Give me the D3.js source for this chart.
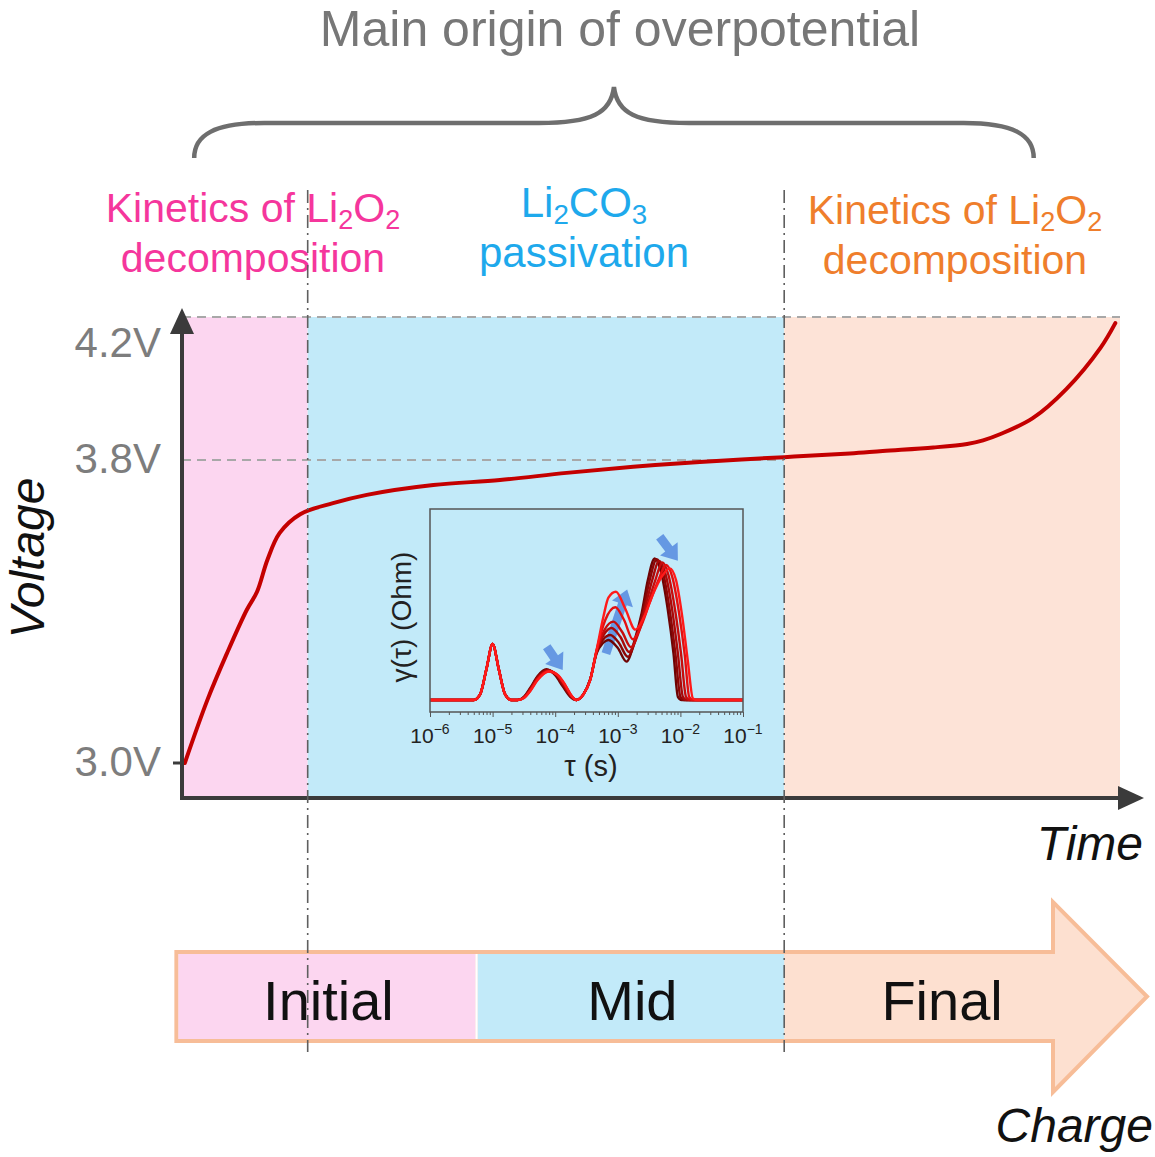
<!DOCTYPE html>
<html>
<head>
<meta charset="utf-8">
<script src="https://cdn.jsdelivr.net/npm/d3@7"></script>
<style>
  body { margin: 0; background: #fff; }
  svg { display: block; font-family: "Liberation Sans", Arial, sans-serif; }
</style>
</head>
<body>
<div id="chart"></div>
<script>
// ---- charge curve (time in % of charge, voltage in V) ----
const timePts = [0.3, 2.7, 4.8, 6.9, 8.0, 9.1, 10.4, 12.6, 16.1, 19.7, 26.8, 33.9, 41.0, 48.1, 55.2, 64.2,
                 71.2, 74.7, 80.1, 83.7, 85.4, 87.2, 90.7, 94.3, 97.9, 99.5];
const voltPts = [3.0, 3.166, 3.29, 3.404, 3.452, 3.536, 3.607, 3.657, 3.686, 3.708, 3.734, 3.747, 3.766, 3.782, 3.795, 3.808,
                 3.818, 3.825, 3.835, 3.845, 3.855, 3.872, 3.917, 3.999, 4.113, 4.183];
const voltTicks = [3.0, 3.8, 4.2];
const guideLevels = [4.2, 3.8];
const guideEnds = [100, 64.2];

// ---- phases ----
const phaseBounds = [0, 13.4, 64.2, 100];
const phaseColors = ['#fcd6f0', '#c2eaf9', '#fde3d7'];
const stageNames = ['Initial', 'Mid', 'Final'];
const stageBounds = [-0.6, 31.4, 64.2];
const stageColors = ['#fcd6f0', '#c2eaf9'];

// ---- inset DRT (log10 tau, gamma) ----
const tauDecades = [-6, -5, -4, -3, -2, -1];
const drtShared = [[-6, 0], [-5.3, 0], [-5.2, 0.35], [-5.1, 1.9], [-5.0, 3.5], [-4.9, 1.9], [-4.8, 0.35], [-4.7, 0], [-4.6, 0]];
const drtCurves = [
  [[-4.5, 0.2], [-4.4, 0.75], [-4.28, 1.5], [-4.14, 1.92], [-4.0, 1.55], [-3.88, 0.85], [-3.76, 0.2], [-3.66, 0], [-3.55, 0.35], [-3.44, 1.3], [-3.34, 2.9], [-3.24, 3.55], [-3.15, 3.75], [-3.0, 3.25], [-2.86, 2.4], [-2.72, 3.9], [-2.62, 5.4], [-2.52, 7.5], [-2.41, 8.85], [-2.31, 8.0], [-2.2, 5.6], [-2.11, 2.9], [-2.04, 0.2], [-1.98, 0], [-1, 0]],
  [[-4.5, 0.18], [-4.4, 0.7], [-4.28, 1.45], [-4.13, 1.88], [-3.99, 1.56], [-3.87, 0.88], [-3.75, 0.22], [-3.66, 0], [-3.55, 0.35], [-3.44, 1.3], [-3.34, 2.95], [-3.23, 3.8], [-3.12, 4.06], [-2.98, 3.55], [-2.84, 2.7], [-2.7, 4.0], [-2.6, 5.5], [-2.49, 7.5], [-2.38, 8.8], [-2.28, 8.0], [-2.17, 5.6], [-2.08, 2.9], [-2.0, 0.2], [-1.94, 0], [-1, 0]],
  [[-4.5, 0.16], [-4.4, 0.66], [-4.28, 1.4], [-4.12, 1.85], [-3.98, 1.57], [-3.86, 0.9], [-3.75, 0.24], [-3.66, 0], [-3.55, 0.35], [-3.44, 1.28], [-3.34, 3.0], [-3.22, 4.1], [-3.1, 4.5], [-2.96, 3.95], [-2.82, 3.0], [-2.68, 4.2], [-2.57, 5.7], [-2.45, 7.5], [-2.34, 8.7], [-2.24, 7.9], [-2.13, 5.6], [-2.04, 2.9], [-1.96, 0.2], [-1.9, 0], [-1, 0]],
  [[-4.5, 0.15], [-4.4, 0.62], [-4.28, 1.35], [-4.11, 1.82], [-3.97, 1.57], [-3.85, 0.92], [-3.74, 0.25], [-3.66, 0], [-3.55, 0.35], [-3.44, 1.27], [-3.34, 3.05], [-3.21, 4.4], [-3.07, 4.9], [-2.93, 4.25], [-2.79, 3.3], [-2.65, 4.4], [-2.53, 5.9], [-2.4, 7.5], [-2.29, 8.6], [-2.19, 7.8], [-2.08, 5.5], [-1.99, 2.9], [-1.91, 0.2], [-1.85, 0], [-1, 0]],
  [[-4.5, 0.13], [-4.4, 0.58], [-4.28, 1.3], [-4.1, 1.8], [-3.96, 1.56], [-3.84, 0.92], [-3.74, 0.26], [-3.66, 0], [-3.55, 0.35], [-3.44, 1.26], [-3.34, 3.1], [-3.2, 5.0], [-3.04, 5.8], [-2.9, 5.0], [-2.76, 3.8], [-2.62, 4.7], [-2.49, 6.1], [-2.35, 7.5], [-2.23, 8.45], [-2.13, 7.7], [-2.02, 5.4], [-1.93, 2.8], [-1.86, 0.2], [-1.8, 0], [-1, 0]],
  [[-4.5, 0.12], [-4.4, 0.55], [-4.28, 1.25], [-4.1, 1.78], [-3.96, 1.56], [-3.84, 0.95], [-3.74, 0.28], [-3.66, 0], [-3.55, 0.35], [-3.44, 1.25], [-3.34, 3.1], [-3.23, 5.2], [-3.15, 6.4], [-3.03, 6.77], [-2.88, 5.7], [-2.72, 4.4], [-2.58, 5.2], [-2.44, 6.6], [-2.3, 7.7], [-2.17, 8.23], [-2.07, 7.5], [-1.97, 5.2], [-1.88, 2.4], [-1.8, 0.1], [-1.74, 0], [-1, 0]]
];
const drtColors = ['#6e0404', '#8c0606', '#a90909', '#c70c0c', '#e40f0f', '#ff1a1a'];
const shiftArrows = [
  { from: [-4.135, 3.33], to: [-3.88, 1.87] },
  { from: [-3.19, 2.9], to: [-2.85, 6.9] },
  { from: [-2.33, 10.2], to: [-2.04, 8.7] }
];

const width = 1155, height = 1157;
const svg = d3.select('#chart').append('svg')
  .attr('width', width).attr('height', height)
  .attr('viewBox', [0, 0, width, height]);

const x = d3.scaleLinear().domain([0, 100]).range([182, 1120]);
const y = d3.scaleLinear().domain([3.0, 3.8, 4.2]).range([763, 460, 317]);
const plotBottom = 798;
const axisColor = '#3b3b3b';

// phase backgrounds
svg.append('g').selectAll('rect').data(phaseColors).join('rect')
  .attr('x', (d, i) => x(phaseBounds[i]))
  .attr('width', (d, i) => x(phaseBounds[i + 1]) - x(phaseBounds[i]))
  .attr('y', y(4.2))
  .attr('height', plotBottom - y(4.2))
  .attr('fill', d => d);

// dashed voltage guides
svg.append('g').selectAll('line').data(guideLevels).join('line')
  .attr('x1', x(0)).attr('x2', (d, i) => x(guideEnds[i]))
  .attr('y1', d => y(d)).attr('y2', d => y(d))
  .attr('stroke', '#a8a8a8').attr('stroke-width', 2)
  .attr('stroke-dasharray', '9,6');

// ---- inset ----
const inset = { left: 430, right: 743, top: 509, bottom: 712 };
const tx = d3.scaleLog().domain([1e-6, 1e-1]).range([inset.left, inset.right]);
const gy = d3.scaleLinear().domain([-0.75, 11.94]).range([inset.bottom, inset.top]);
const ig = svg.append('g');

function arrowPath(x1, y1, x2, y2, shaft = 4.5, head = 11, headLen = 15) {
  const dx = x2 - x1, dy = y2 - y1, L = Math.hypot(dx, dy);
  const ux = dx / L, uy = dy / L, px = -uy, py = ux;
  const bx = x2 - ux * headLen, by = y2 - uy * headLen;
  const pts = [[x1 + px * shaft, y1 + py * shaft], [bx + px * shaft, by + py * shaft], [bx + px * head, by + py * head],
               [x2, y2], [bx - px * head, by - py * head], [bx - px * shaft, by - py * shaft], [x1 - px * shaft, y1 - py * shaft]];
  return 'M' + pts.join('L') + 'Z';
}

ig.append('g').selectAll('path').data(shiftArrows).join('path')
  .attr('d', d => arrowPath(tx(10 ** d.from[0]), gy(d.from[1]), tx(10 ** d.to[0]), gy(d.to[1])))
  .attr('fill', '#5b8fe0').attr('opacity', 0.9);

const drtLine = d3.line()
  .x(d => tx(10 ** d[0]))
  .y(d => gy(d[1]))
  .curve(d3.curveMonotoneX);

ig.append('g').selectAll('path').data(drtCurves).join('path')
  .attr('d', d => drtLine(drtShared.concat(d)))
  .attr('fill', 'none')
  .attr('stroke', (d, i) => drtColors[i])
  .attr('stroke-width', 2.4);

ig.append('rect')
  .attr('x', inset.left).attr('y', inset.top)
  .attr('width', inset.right - inset.left).attr('height', inset.bottom - inset.top)
  .attr('fill', 'none').attr('stroke', '#555').attr('stroke-width', 1.5);

// minor / major ticks
const minorTicks = tx.ticks().filter(v => Math.abs(Math.log10(v) - Math.round(Math.log10(v))) > 1e-6);
ig.append('g').attr('transform', `translate(0,${inset.bottom})`).attr('color', '#555')
  .call(d3.axisBottom(tx).tickValues(minorTicks).tickSize(3).tickFormat(''))
  .call(g => g.select('.domain').remove());
ig.append('g').attr('transform', `translate(0,${inset.bottom})`).attr('color', '#555')
  .call(d3.axisBottom(tx).tickValues(tauDecades.map(d => 10 ** d)).tickSize(5).tickFormat(''))
  .call(g => g.select('.domain').remove());

const tauLab = ig.append('g').selectAll('text').data(tauDecades).join('text')
  .attr('x', d => tx(10 ** d)).attr('y', 743)
  .attr('text-anchor', 'middle').attr('font-size', 21).attr('fill', '#222');
tauLab.append('tspan').text('10');
tauLab.append('tspan').attr('dy', -9).attr('font-size', 14).text(d => '\u2212' + Math.abs(d));

ig.append('text').attr('x', 591).attr('y', 776)
  .attr('text-anchor', 'middle').attr('font-size', 29).attr('fill', '#222')
  .text('τ (s)');
ig.append('text').attr('transform', 'translate(411,617) rotate(-90)')
  .attr('text-anchor', 'middle').attr('font-size', 28).attr('fill', '#222')
  .text('γ(τ) (Ohm)');

// ---- charge curve ----
const vLine = d3.line()
  .x((d, i) => x(timePts[i]))
  .y(d => y(d))
  .curve(d3.curveCatmullRom.alpha(0.5));
svg.append('path').datum(voltPts)
  .attr('d', vLine)
  .attr('fill', 'none').attr('stroke', '#c40000').attr('stroke-width', 4)
  .attr('stroke-linecap', 'round');

// ---- axes ----
const axes = svg.append('g').attr('fill', axisColor).attr('stroke', axisColor);
axes.append('line').attr('x1', x(0)).attr('x2', x(0)).attr('y1', plotBottom + 2).attr('y2', 328).attr('stroke-width', 4);
axes.append('path').attr('d', `M${x(0)},308L${x(0) - 12},334L${x(0) + 12},334Z`).attr('stroke', 'none');
axes.append('line').attr('x1', x(0) - 2).attr('x2', 1122).attr('y1', plotBottom).attr('y2', plotBottom).attr('stroke-width', 4);
axes.append('path').attr('d', `M1144,${plotBottom}L1118,${plotBottom - 12}L1118,${plotBottom + 12}Z`).attr('stroke', 'none');
axes.append('line').attr('x1', x(0) - 9).attr('x2', x(0)).attr('y1', y(3.0)).attr('y2', y(3.0)).attr('stroke-width', 3);

svg.append('g').selectAll('text').data(voltTicks).join('text')
  .attr('x', 161)
  .attr('y', d => Math.max(y(d) + 13, 357))
  .attr('text-anchor', 'end').attr('font-size', 42).attr('fill', '#7d7d7d')
  .text(d => d.toFixed(1) + 'V');

svg.append('text').attr('transform', 'translate(44,558) rotate(-90)')
  .attr('text-anchor', 'middle').attr('font-size', 48).attr('font-style', 'italic').attr('fill', '#111')
  .text('Voltage');
svg.append('text').attr('x', 1143).attr('y', 860)
  .attr('text-anchor', 'end').attr('font-size', 48).attr('font-style', 'italic').attr('fill', '#111')
  .text('Time');

// ---- top annotation ----
svg.append('text').attr('x', 620).attr('y', 46)
  .attr('text-anchor', 'middle').attr('font-size', 50).attr('fill', '#777')
  .text('Main origin of overpotential');

const braceSpan = [1.3, 90.8];
const bl = x(braceSpan[0]), br = x(braceSpan[1]), bm = (bl + br) / 2;
const yEnd = 158, yBar = 123, yTip = 87;
svg.append('path')
  .attr('d', `M${bl},${yEnd}C${bl},${yBar + 12} ${bl + 20},${yBar} ${bl + 70},${yBar}` +
             `L${bm - 75},${yBar}C${bm - 22},${yBar} ${bm - 3},${yBar - 10} ${bm},${yTip}` +
             `C${bm + 3},${yBar - 10} ${bm + 22},${yBar} ${bm + 75},${yBar}` +
             `L${br - 70},${yBar}C${br - 20},${yBar} ${br},${yBar + 12} ${br},${yEnd}`)
  .attr('fill', 'none').attr('stroke', '#6e6e6e').attr('stroke-width', 4.5);

function chemLabel(cx, y1, y2, size, color, parts, line2) {
  const t = svg.append('text').attr('x', cx).attr('y', y1)
    .attr('text-anchor', 'middle').attr('font-size', size).attr('fill', color);
  parts.forEach(p => {
    const s = t.append('tspan').text(p[0]);
    if (p[1] === 'sub') s.attr('font-size', size * 0.66).attr('dy', 7);
    if (p[1] === 'up') s.attr('dy', -7);
  });
  svg.append('text').attr('x', cx).attr('y', y2)
    .attr('text-anchor', 'middle').attr('font-size', size).attr('fill', color)
    .text(line2);
}
chemLabel(253, 222, 272, 41, '#f5369c', [['Kinetics of Li'], ['2', 'sub'], ['O', 'up'], ['2', 'sub']], 'decomposition');
chemLabel(584, 217, 267, 42, '#1ea9ec', [['Li'], ['2', 'sub'], ['CO', 'up'], ['3', 'sub']], 'passivation');
chemLabel(955, 224, 274, 41, '#ef7e2c', [['Kinetics of Li'], ['2', 'sub'], ['O', 'up'], ['2', 'sub']], 'decomposition');

// ---- stage arrow ----
const barTop = 952, barBot = 1041, headBase = 1053, headTip = 1147, headTop = 902, headBot = 1092;
svg.append('path')
  .attr('d', `M${x(stageBounds[0])},${barTop}L${headBase},${barTop}L${headBase},${headTop}L${headTip},${(barTop + barBot) / 2}` +
             `L${headBase},${headBot}L${headBase},${barBot}L${x(stageBounds[0])},${barBot}Z`)
  .attr('fill', '#fde0d0').attr('stroke', '#f7bd98').attr('stroke-width', 4);
svg.append('g').selectAll('rect').data(stageColors).join('rect')
  .attr('x', (d, i) => x(stageBounds[i]) + (i ? 1 : 2))
  .attr('width', (d, i) => x(stageBounds[i + 1]) - x(stageBounds[i]) - (i ? 1 : 3))
  .attr('y', barTop + 2).attr('height', barBot - barTop - 4)
  .attr('fill', d => d);
svg.append('line').attr('x1', x(stageBounds[1])).attr('x2', x(stageBounds[1]))
  .attr('y1', barTop + 2).attr('y2', barBot - 2).attr('stroke', '#fff').attr('stroke-width', 2);

svg.append('g').selectAll('text').data(stageNames).join('text')
  .attr('x', (d, i) => i < 2 ? (x(stageBounds[i]) + x(stageBounds[i + 1])) / 2 + 2 : (x(stageBounds[i]) + headBase + (headTip - headBase) / 2) / 2)
  .attr('y', 1020)
  .attr('text-anchor', 'middle').attr('font-size', 56).attr('fill', '#111')
  .text(d => d);

svg.append('text').attr('x', 1153).attr('y', 1142)
  .attr('text-anchor', 'end').attr('font-size', 48).attr('font-style', 'italic').attr('fill', '#111')
  .text('Charge');

// ---- phase boundary dash-dot lines ----
svg.append('g').selectAll('line').data(phaseBounds.slice(1, 3)).join('line')
  .attr('x1', d => x(d)).attr('x2', d => x(d))
  .attr('y1', 190).attr('y2', 1052)
  .attr('stroke', '#5f5f5f').attr('stroke-width', 1.6)
  .attr('stroke-dasharray', '13,5,2,5');
</script>
</body>
</html>
